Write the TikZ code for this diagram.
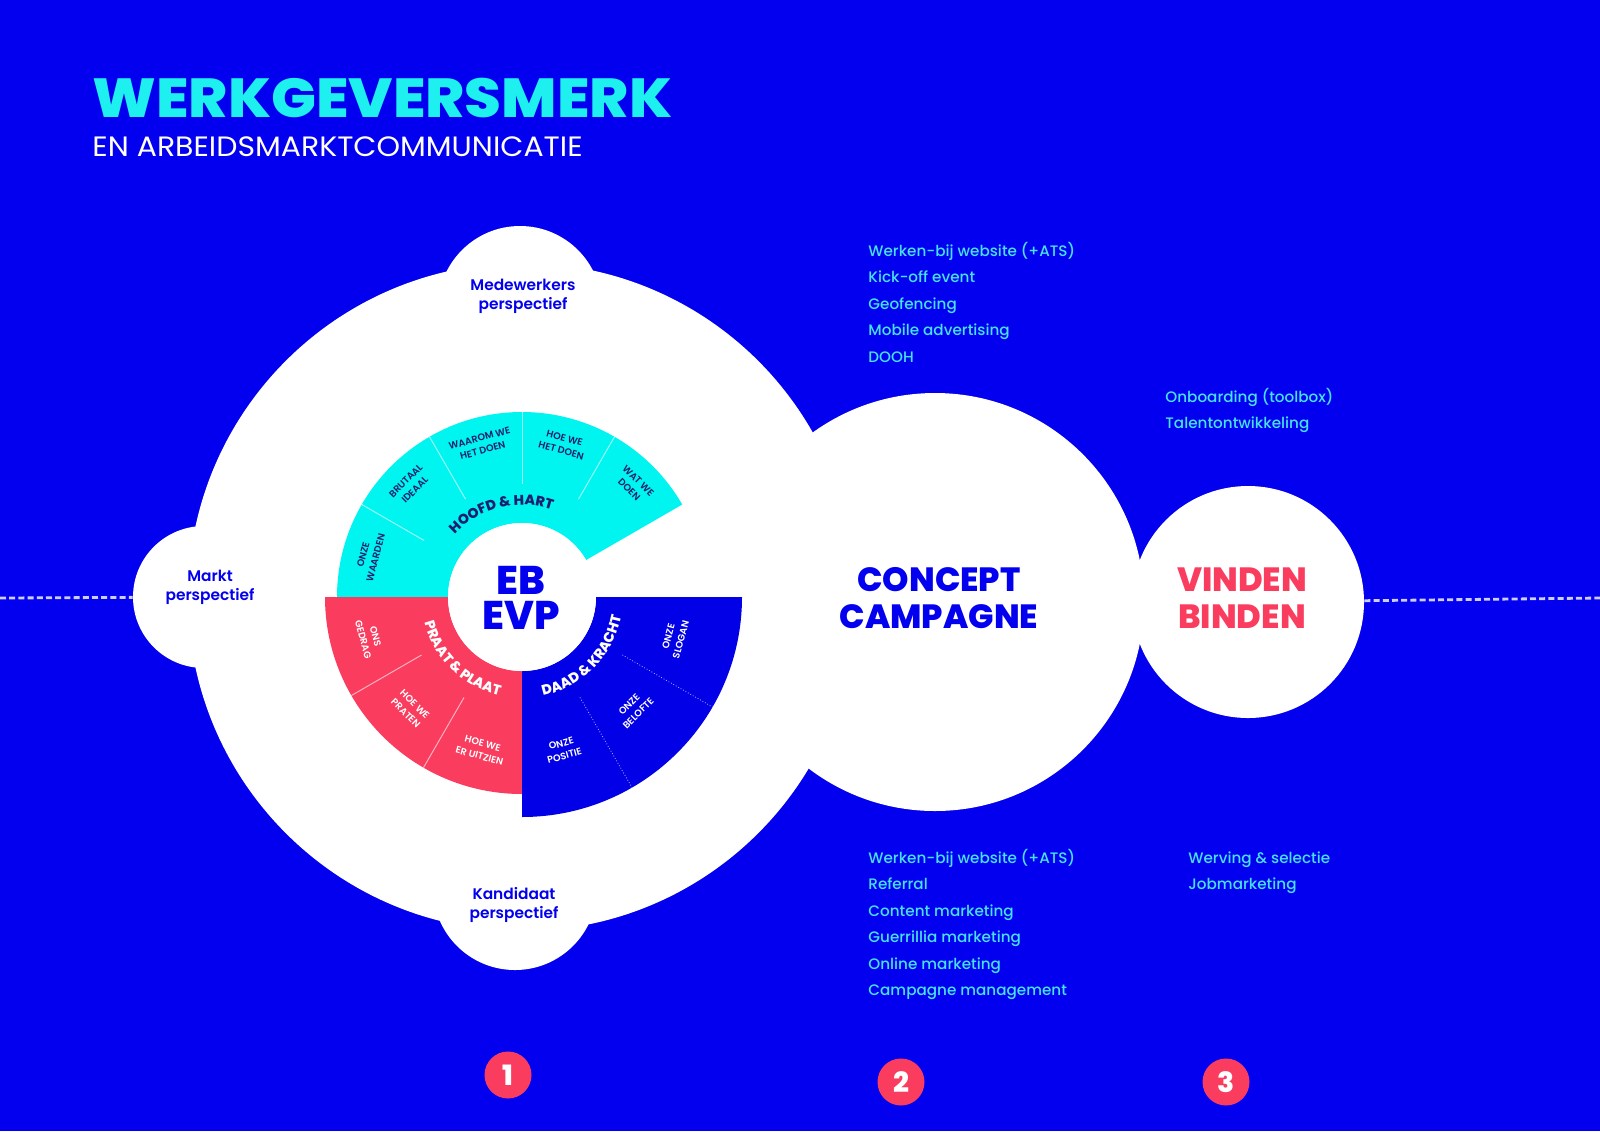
\documentclass[tikz,border=0pt]{standalone}
\usepackage{fontspec}
\setmainfont{Poppins}
\IfFontExistsTF{Poppins ExtraBold}{\newfontfamily\fxb{Poppins ExtraBold}}{\newcommand\fxb{\bfseries}}
\IfFontExistsTF{Poppins SemiBold}{\newfontfamily\fsb{Poppins SemiBold}}{\newcommand\fsb{\bfseries}}
\IfFontExistsTF{Poppins Medium}{\newfontfamily\fmd{Poppins Medium}}{\newcommand\fmd{\mdseries}}
\usetikzlibrary{decorations.text}
\definecolor{bgc}{RGB}{2,0,238}
\definecolor{wblue}{RGB}{2,0,230}
\definecolor{cyanc}{RGB}{0,245,240}
\definecolor{titlec}{RGB}{30,240,240}
\definecolor{listc}{RGB}{70,225,245}
\definecolor{pinkc}{RGB}{250,60,95}
\definecolor{navyc}{RGB}{30,30,110}
\definecolor{dashc}{RGB}{205,205,255}
\tikzset{
  whitec/.style={circle, fill=white, inner sep=0pt},
  lst/.style={anchor=base west, inner sep=0pt, text=listc, font=\fmd\fontsize{7.6}{7.6}\selectfont},
  persp/.style={align=center, text=bgc, inner sep=0pt, font=\fsb\fontsize{7.7}{9.6}\selectfont},
  bigtxt/.style={align=center, inner sep=0pt, font=\fxb\fontsize{16.8}{18.5}\selectfont},
  numc/.style={circle, fill=pinkc, text=white, minimum size=23.5pt, inner sep=0pt, font=\fxb\fontsize{14}{14}\selectfont},
  sublab/.style={align=center, inner sep=0pt, font=\fsb\fontsize{4.8}{6.4}\selectfont},
  dashl/.style={draw=dashc, line width=1.4pt, dash pattern=on 3pt off 1.6pt},
  divc/.style={draw=white, opacity=0.6, line width=0.5pt},
  divb/.style={draw=white!70!bgc, line width=0.4pt, densely dotted},
}
\begin{document}
\begin{tikzpicture}[x=0.5pt,y=-0.5pt]
\useasboundingbox (0,0) rectangle (1600,1131);
\fill[bgc] (0,0) rectangle (1600,1131);

% dashed axis
\coordinate (dL) at (0,598);
\coordinate (dR) at (1600,598);

% white shapes
\node[whitec, minimum size=334pt] (big) at (522,597) {};
\node[whitec, minimum size=82pt] (medew) at (520,308) {};
\node[whitec, minimum size=82pt] (kand) at (515,888) {};
\node[whitec, minimum size=71pt] (markt) at (204,597) {};
\node[whitec, minimum size=209pt] (concept) at (935,602) {};
\node[whitec, minimum size=116pt] (vinden) at (1248,602) {};
\draw[dashl] (dL) -- (markt);
\draw[dashl] (vinden) -- (dR);

% wheel
\begin{scope}[shift={(522,597)}, y=0.5pt]
  \fill[cyanc] (180:74) -- (180:185) arc[start angle=180, end angle=30, radius=185] -- (30:74) arc[start angle=30, end angle=180, radius=74] -- cycle;
  \fill[pinkc] (180:74) -- (180:197) arc[start angle=180, end angle=270, radius=197] -- (270:74) arc[start angle=270, end angle=180, radius=74] -- cycle;
  \fill[wblue] (270:74) -- (270:220) arc[start angle=270, end angle=360, radius=220] -- (0:74) arc[start angle=360, end angle=270, radius=74] -- cycle;
  \foreach \a in {150,120,90,60} \draw[divc] (\a:113) -- (\a:185);
  \foreach \a in {210,240} \draw[divc] (\a:116) -- (\a:197);
  \foreach \a in {300,330} \draw[divb] (\a:116) -- (\a:220);
  \path[decorate, decoration={text along path, text align=center, text color=navyc,
     text={|\fxb\fontsize{7}{7}\selectfont|HOOFD {\&} HART}}]
     (150:92) arc[start angle=150, end angle=58, radius=92];
  \path[decorate, decoration={text along path, text align=center, text color=white,
     text={|\fxb\fontsize{7}{7}\selectfont|PRAAT {\&} PLAAT}}]
     (185:101) arc[start angle=185, end angle=267, radius=101];
  \path[decorate, decoration={text along path, text align=center, text color=white,
     text={|\fxb\fontsize{7}{7}\selectfont|DAAD {\&} KRACHT}}]
     (274:101) arc[start angle=274, end angle=357, radius=101];
  \node[sublab, text=navyc, rotate=75] (s1) at (165:158) {ONZE\\WAARDEN};
  \node[sublab, text=navyc, rotate=45] (s2) at (135:158) {BRUTAAL\\IDEAAL};
  \node[sublab, text=navyc, rotate=15] (s3) at (105:158) {WAAROM WE\\HET DOEN};
  \node[sublab, text=navyc, rotate=-15] (s4) at (75:158) {HOE WE\\HET DOEN};
  \node[sublab, text=navyc, rotate=-45] (s5) at (45:158) {WAT WE\\DOEN};
  \node[sublab, text=white, rotate=-75] (s6) at (195:158) {ONS\\GEDRAG};
  \node[sublab, text=white, rotate=-45] (s7) at (225:158) {HOE WE\\PRATEN};
  \node[sublab, text=white, rotate=-15] (s8) at (255:158) {HOE WE\\ER UITZIEN};
  \node[sublab, text=white, rotate=15] (s9) at (285:158) {ONZE\\POSITIE};
  \node[sublab, text=white, rotate=45] (s10) at (315:158) {ONZE\\BELOFTE};
  \node[sublab, text=white, rotate=75] (s11) at (345:158) {ONZE\\SLOGAN};
  \fill[white] (0,0) circle[radius=74];
\end{scope}
\node[bigtxt, text=bgc, font=\fxb\fontsize{20}{17.5}\selectfont] (ebevp) at (521,598) {EB\\EVP};

% circle labels
\node[persp] (mwl) at (523,296) {Medewerkers\\perspectief};
\node[persp] (kdl) at (514,905) {Kandidaat\\perspectief};
\node[persp] (mkl) at (210,587) {Markt\\perspectief};
\node[bigtxt, text=bgc] (ccl) at (939,598) {CONCEPT\\CAMPAGNE};
\node[bigtxt, text=pinkc] (vbl) at (1242,598) {VINDEN\\BINDEN};

% title
\node[anchor=base west, inner sep=0pt, text=titlec, font=\fxb\fontsize{27.5}{27.5}\selectfont] (title) at (92,117) {\scalebox{1.08}[1]{WERKGEVERSMERK}};
\node[anchor=base west, inner sep=0pt, text=white, font=\fontsize{14}{14}\selectfont] (subt) at (92,156) {\scalebox{1.07}[1]{EN ARBEIDSMARKTCOMMUNICATIE}};

% lists
\node[lst] (t1) at (868,256) {Werken-bij website (+ATS)};
\node[lst] (t2) at (868,282.5) {Kick-off event};
\node[lst] (t3) at (868,309) {Geofencing};
\node[lst] (t4) at (868,335.5) {Mobile advertising};
\node[lst] (t5) at (868,362) {DOOH};
\node[lst] (o1) at (1165,402) {Onboarding (toolbox)};
\node[lst] (o2) at (1165,428) {Talentontwikkeling};
\node[lst] (b1) at (868,863) {Werken-bij website (+ATS)};
\node[lst] (b2) at (868,889) {Referral};
\node[lst] (b3) at (868,916) {Content marketing};
\node[lst] (b4) at (868,942) {Guerrillia marketing};
\node[lst] (b5) at (868,969) {Online marketing};
\node[lst] (b6) at (868,995) {Campagne management};
\node[lst] (w1) at (1188,863) {Werving \& selectie};
\node[lst] (w2) at (1188,889) {Jobmarketing};

% numbers
\node[numc] (n1) at (508,1075) {1};
\node[numc] (n2) at (901,1082) {2};
\node[numc] (n3) at (1226,1082) {3};
\end{tikzpicture}
\end{document}
